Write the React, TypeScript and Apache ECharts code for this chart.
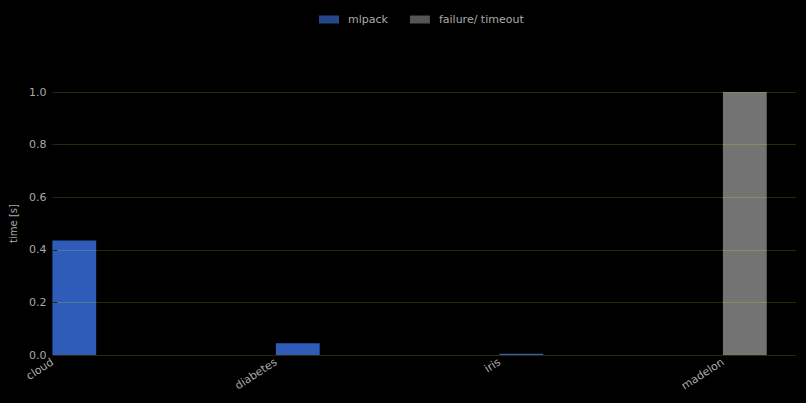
import React, { useEffect, useRef } from "react";
import * as echarts from "echarts";

const categories = ["cloud", "diabetes", "iris", "madelon"];
const mlpackValues: (number | null)[] = [0.435, 0.045, 0.005, null];
const failureValues: (number | null)[] = [null, null, null, 1.0];
const yTicks = [0, 0.2, 0.4, 0.6, 0.8, 1.0];

const BAR_W = 0.196;
const X_MAX = 3.327;

function barRender(params: any, api: any) {
  const x = api.value(0);
  const v = api.value(1);
  const p0 = api.coord([x, 0]);
  const p1 = api.coord([x + BAR_W, v]);
  return {
    type: "rect",
    shape: { x: p0[0], y: p1[1], width: p1[0] - p0[0], height: p0[1] - p1[1] },
    style: { fill: api.visual("color") },
  };
}

function toData(vals: (number | null)[]) {
  const out: number[][] = [];
  vals.forEach((v, i) => {
    if (v !== null) out.push([i, v]);
  });
  return out;
}

export default function App() {
  const ref = useRef<HTMLDivElement>(null);
  useEffect(() => {
    if (!ref.current) return;
    const chart = echarts.init(ref.current, undefined, { renderer: "svg" });
    chart.setOption({
      animation: false,
      backgroundColor: "#000000",
      textStyle: { fontFamily: "DejaVu Sans" },
      legend: {
        top: 9,
        left: 314,
        itemWidth: 20,
        itemHeight: 8,
        itemGap: 22,
        icon: "rect",
        textStyle: { color: "#aaaaaa", fontSize: 11, padding: [0, 0, 0, 4] },
        data: [
          { name: "mlpack", itemStyle: { color: "#24478c" } },
          { name: "failure/ timeout", itemStyle: { color: "#555555" } },
        ],
      },
      grid: { left: 49, right: 10, top: 92, bottom: 48 },
      xAxis: {
        type: "value",
        min: 0,
        max: X_MAX,
        interval: 1,
        splitLine: { show: false },
        axisLine: { show: false },
        axisTick: { show: false },
        axisLabel: {
          rotate: 33,
          color: "#aaaaaa",
          fontSize: 11,
          margin: 6,
          showMaxLabel: false,
          formatter: (v: number) => {
            const i = Math.round(v);
            return Math.abs(v - i) < 1e-6 && categories[i] ? categories[i] : "";
          },
        },
      },
      yAxis: {
        type: "value",
        min: yTicks[0],
        max: yTicks[yTicks.length - 1],
        interval: 0.2,
        z: 10,
        name: "time [s]",
        nameLocation: "middle",
        nameGap: 34,
        nameTextStyle: { color: "#aaaaaa", fontSize: 10 },
        axisLine: { show: false },
        axisTick: { show: true, inside: true, length: 5, lineStyle: { color: "#222222" } },
        splitLine: { show: true, lineStyle: { color: "rgba(255,255,0,0.17)", width: 1.2 } },
        axisLabel: {
          color: "#aaaaaa",
          fontSize: 11,
          margin: 6,
          formatter: (v: number) => v.toFixed(1),
        },
      },
      series: [
        {
          name: "mlpack",
          type: "custom",
          renderItem: barRender,
          itemStyle: { color: "#2e5cb8" },
          encode: { x: 0, y: 1 },
          data: toData(mlpackValues),
        },
        {
          name: "failure/ timeout",
          type: "custom",
          renderItem: barRender,
          itemStyle: { color: "#737373" },
          encode: { x: 0, y: 1 },
          data: toData(failureValues),
        },
      ],
    });
    return () => chart.dispose();
  }, []);
  return <div ref={ref} style={{ width: 806, height: 403, position: "absolute", left: 0, top: 0 }} />;
}
